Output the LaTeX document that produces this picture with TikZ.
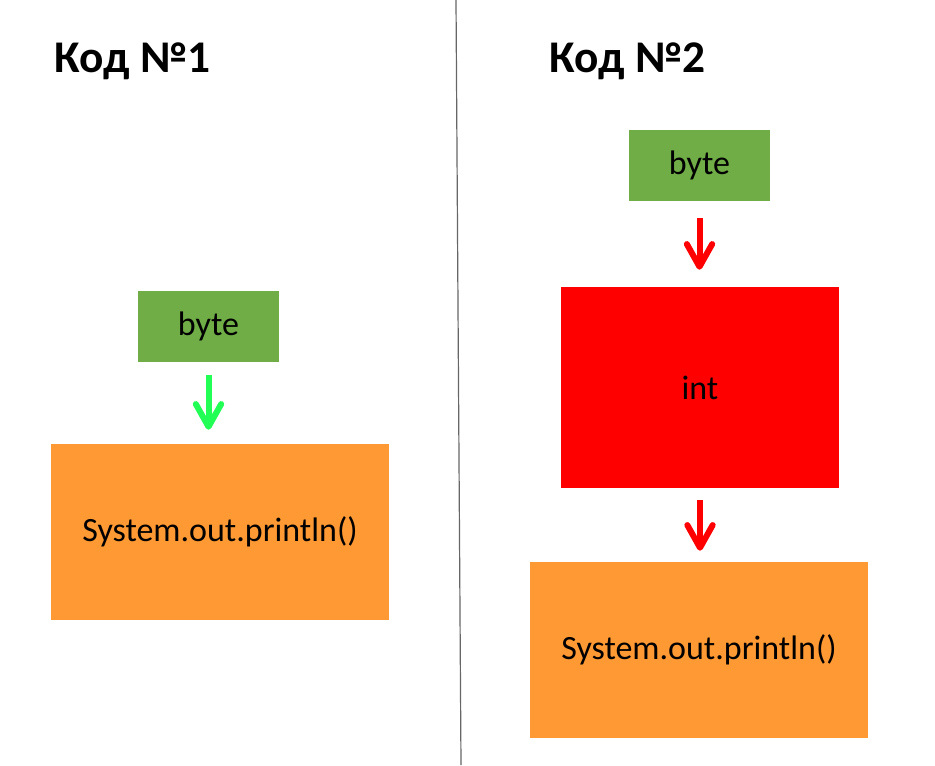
\documentclass[tikz,border=0pt]{standalone}
\usepackage{fontspec}
\setmainfont{Carlito}
\usetikzlibrary{arrows.meta}
\def\px{0.75pt}
\definecolor{byteGreen}{HTML}{70AD47}
\definecolor{printOrange}{HTML}{FF9933}
\definecolor{arrowGreen}{HTML}{22FF55}
\tikzstyle{arrow} = [line width=4.5pt,-{Straight Barb[round,length=17pt,width=19pt]}]

\begin{document}
\begin{tikzpicture}[x=\px, y=-\px]
    \tikzstyle{box}=[draw=none, inner sep=0pt, font=\fontsize{25.5pt}{30pt}\selectfont]
    \tikzstyle{byte box}=[box, fill=byteGreen, minimum width=141*\px, minimum height=71*\px]
    \tikzstyle{print box}=[box, fill=printOrange, minimum width=338*\px, minimum height=176*\px]
    \tikzstyle{int box}=[box, fill=red, minimum width=278*\px, minimum height=201*\px]
    \tikzstyle{title}=[anchor=base west, inner sep=0pt, font=\fontsize{34pt}{38pt}\selectfont\bfseries]

    \useasboundingbox (0,0) rectangle (935,765);

    % Draw the divider
    \coordinate (top) at (456,0);
    \coordinate (bottom) at (461,765);
    \draw[line width=0.9pt, black!60] (top) -- (bottom);

    % Draw the titles
    \node[title] (T-1) at (54,72) {Код №1};
    \node[title] (T-2) at (549,72) {Код №2};

    % Draw the first code
    \node[byte box] (B-1) at (208.5,326.5) {byte};
    \node[print box] (P-1) at (220,532) {System.out.println()};
    \draw[arrow, arrowGreen, shorten <=13*\px, shorten >=14*\px] (B-1.south) -- (B-1 |- P-1.north);

    % Draw the second code
    \node[byte box] (B-2) at (699.5,165.5) {byte};
    \node[int box] (I-2) at (700,387.5) {int};
    \node[print box] (P-2) at (699,650) {System.out.println()};
    \draw[arrow, red, shorten <=17*\px, shorten >=17*\px] (B-2.south) -- (B-2 |- I-2.north);
    \draw[arrow, red, shorten <=12*\px, shorten >=11*\px] (I-2.south) -- (I-2 |- P-2.north);
\end{tikzpicture}
\end{document}
